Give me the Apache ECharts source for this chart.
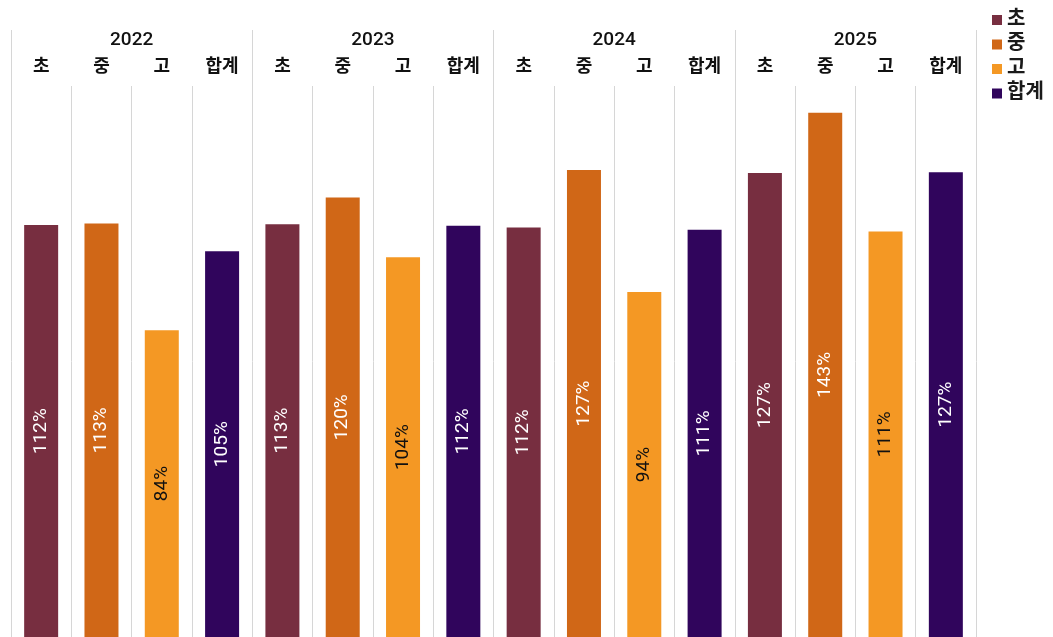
<!DOCTYPE html>
<html>
<head>
<meta charset="utf-8">
<script src="https://cdn.jsdelivr.net/npm/echarts@6/dist/echarts.min.js"></script>
<style>
html,body{margin:0;padding:0;background:#fff;}
#c{width:1053px;height:637px;}
</style>
</head>
<body>
<div id="c"></div>
<script>
const years = ['2022', '2023', '2024', '2025'];
const groups = ['초', '중', '고', '합계'];
const cho   = [112.35, 112.6, 111.7, 126.6];
const jung  = [112.8, 119.9, 127.4, 143.0];
const go    = [83.7, 103.6, 94.1, 110.6];
const total = [105.2, 112.2, 111.1, 126.8];
const colors = ['#772E40', '#D06717', '#F49824', '#30055C'];
const labelColors = ['#ffffff', '#ffffff', '#111111', '#ffffff'];

const seriesValues = [cho, jung, go, total];
const categories = [];
years.forEach(() => groups.forEach(g => categories.push(g)));

function expand(vals, gi) {
  const out = [];
  years.forEach((y, yi) => groups.forEach((g, k) => out.push(k === gi ? vals[yi] : '-')));
  return out;
}

const FONT = 'Roboto, "Noto Sans CJK KR", sans-serif';
const lineColor = '#d6d6d6';

const chart = echarts.init(document.getElementById('c'), null, {renderer: 'canvas'});
chart.setOption({
  animation: false,
  backgroundColor: '#ffffff',
  legend: {
    orient: 'vertical',
    left: 987,
    top: 5,
    itemWidth: 10,
    itemHeight: 10,
    itemGap: 4.5,
    icon: 'rect',
    textStyle: {fontSize: 20, fontWeight: 'bold', color: '#1a1a1a', fontFamily: FONT},
    data: groups
  },
  grid: {left: 11, right: 77, top: 86, bottom: 0, containLabel: false},
  xAxis: [
    {
      type: 'category',
      data: categories,
      position: 'top',
      boundaryGap: true,
      axisLine: {show: true, lineStyle: {color: lineColor, width: 1}},
      axisTick: {show: true, interval: 0, length: 38, lineStyle: {color: lineColor, width: 1}},
      axisLabel: {interval: 0, margin: 10, fontSize: 18, fontWeight: 'bold', color: '#111', fontFamily: FONT},
      splitLine: {show: true, interval: 0, lineStyle: {color: lineColor, width: 1}}
    },
    {
      type: 'category',
      data: years,
      position: 'top',
      boundaryGap: true,
      axisLine: {show: false},
      axisTick: {show: true, interval: 0, length: 56, lineStyle: {color: lineColor, width: 1}},
      axisLabel: {interval: 0, margin: 36, fontSize: 19, fontWeight: 500, color: '#111', fontFamily: FONT},
      splitLine: {show: false}
    }
  ],
  yAxis: {type: 'value', min: 0, max: 150.3, show: false, splitLine: {show: false}},
  series: groups.map((g, gi) => ({
    name: g,
    type: 'bar',
    xAxisIndex: 0,
    data: expand(seriesValues[gi], gi),
    barWidth: 34,
    barGap: '-100%',
    itemStyle: {color: colors[gi]},
    label: {
      show: true,
      position: 'inside',
      rotate: 90,
      fontSize: 19,
      fontFamily: FONT,
      color: labelColors[gi],
      formatter: p => Math.round(p.value) + '%'
    }
  }))
});
</script>
</body>
</html>
